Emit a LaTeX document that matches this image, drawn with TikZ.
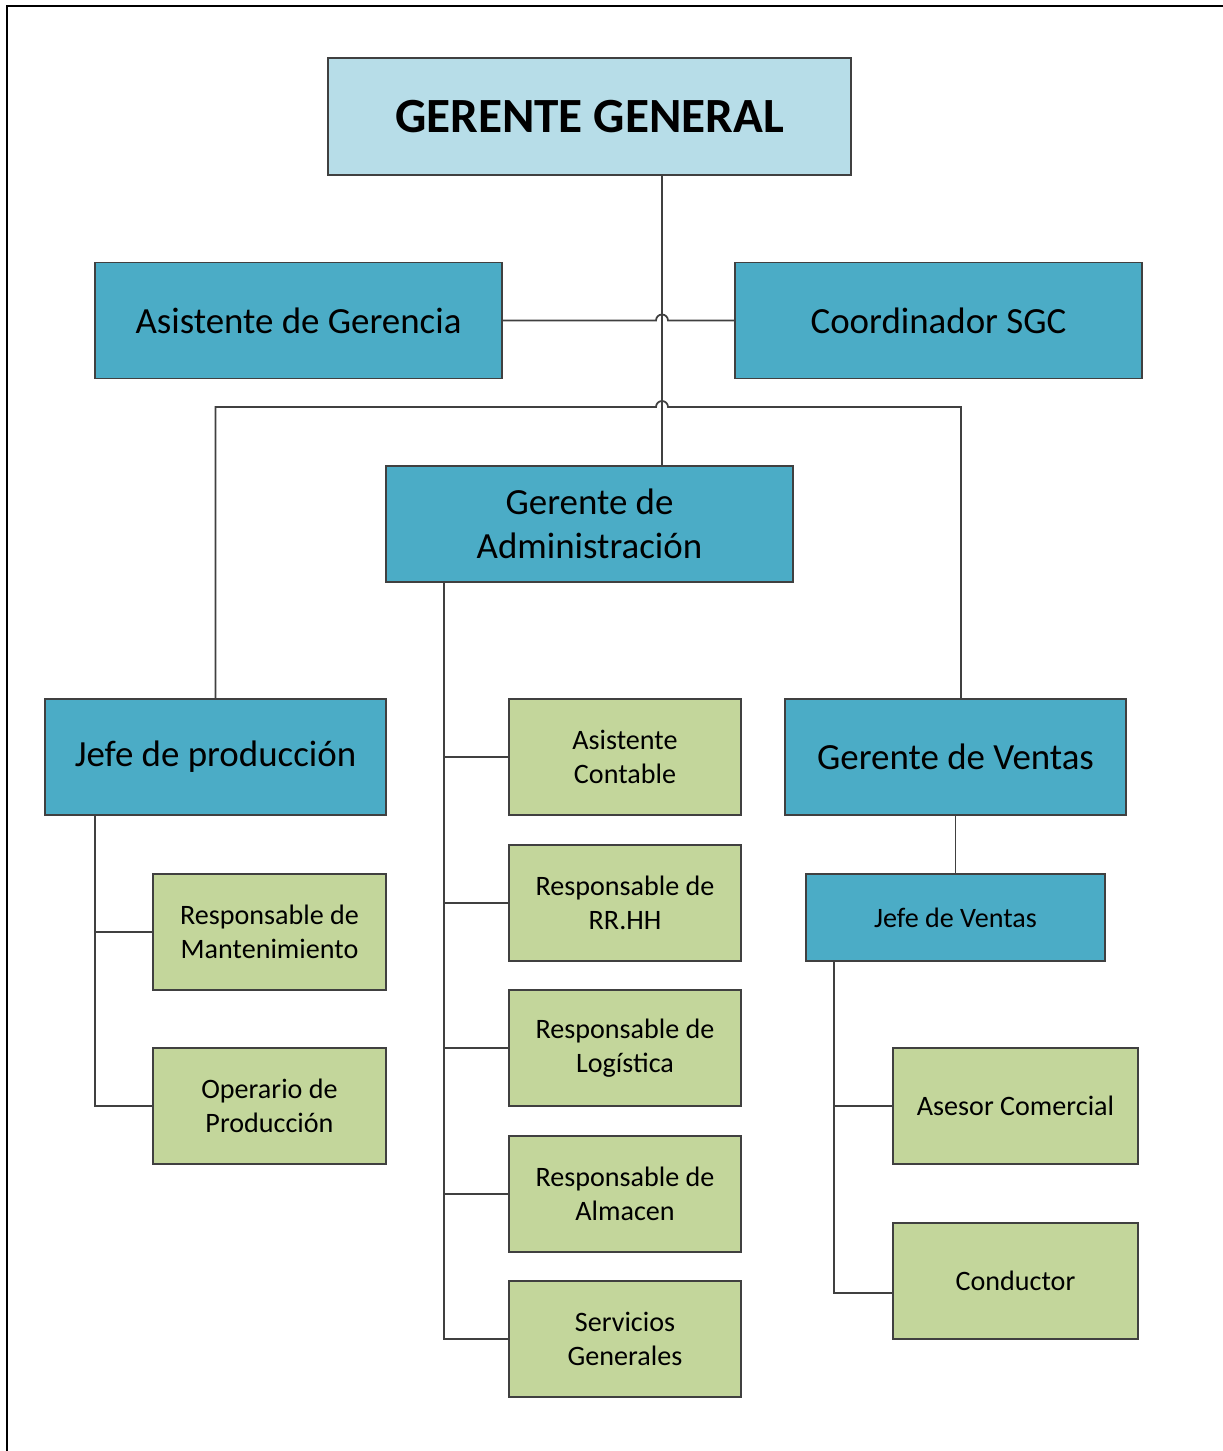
\documentclass[tikz,border=0pt]{standalone}
\usepackage{fontspec}
\setmainfont{Carlito}
\usetikzlibrary{calc}
\definecolor{ggblue}{RGB}{183,221,232}
\definecolor{bossblue}{RGB}{75,172,198}
\definecolor{staffgreen}{RGB}{195,214,155}
\definecolor{linegray}{RGB}{64,64,64}
\tikzstyle{ggbox} = [rectangle, minimum width=10.46cm, minimum height=2.34cm, inner sep=0pt, text centered, draw=linegray, line width=1pt, fill=ggblue, font=\fontsize{28}{34}\selectfont\bfseries]
\tikzstyle{bossbox} = [rectangle, minimum width=8.14cm, minimum height=2.32cm, inner sep=0pt, align=center, draw=linegray, line width=1pt, fill=bossblue, font=\fontsize{21}{25.2}\selectfont]
\tikzstyle{staffbox} = [rectangle, minimum width=4.64cm, minimum height=2.32cm, inner sep=0pt, align=center, draw=linegray, line width=1pt, fill=staffgreen, font=\fontsize{16}{19.3}\selectfont]
\tikzstyle{link} = [line width=1pt, draw=linegray]
\begin{document}
\begin{tikzpicture}[x=0.02cm, y=-0.02cm]
			\useasboundingbox (0,0) rectangle (1223,1451);
			\draw [line width=1.7pt] (7,1451) -- (7,6) -- (1223,6);
			\node(gg)[ggbox] at (589.5,116.5) {GERENTE GENERAL};
			\node(asis)[bossbox] at (298.5,320.5) {Asistente de Gerencia};
			\node(coord)[bossbox] at (938.5,320.5) {Coordinador SGC};
			\node(gadm)[bossbox] at (589.5,524) {Gerente de\\Administración};
			\node(jprod)[bossbox, minimum width=6.82cm] at (215.5,757) {Jefe de producción};
			\node(gventas)[bossbox, minimum width=6.82cm] at (955.5,757) {Gerente de Ventas};
			\node(jventas)[bossbox, minimum width=5.98cm, minimum height=1.74cm, font=\fontsize{16}{19.3}\selectfont] at (955.5,917.5) {Jefe de Ventas};

			\node(acont)[staffbox] at (625,757) {Asistente\\Contable};
			\node(rrhh)[staffbox] at (625,903) {Responsable de\\RR.HH};
			\node(logis)[staffbox] at (625,1048) {Responsable de\\Logística};
			\node(almac)[staffbox] at (625,1194) {Responsable de\\Almacen};
			\node(sgen)[staffbox] at (625,1339) {Servicios\\Generales};
			\node(rmant)[staffbox, minimum width=4.66cm] at (269.5,932) {Responsable de\\Mantenimiento};
			\node(oprod)[staffbox, minimum width=4.66cm] at (269.5,1106) {Operario de\\Producción};
			\node(asesor)[staffbox, minimum width=4.9cm] at (1015.5,1106) {Asesor Comercial};
			\node(cond)[staffbox, minimum width=4.9cm] at (1015.5,1281) {Conductor};

			% Lines
			\draw [link] ([xshift=1.45cm]gg.south) -- ([xshift=1.45cm]gadm.north);
			\draw [link] (asis.east) -- (656,320.5) arc[start angle=180, end angle=360, radius=6] -- (coord.west);
			\draw [link] (jprod.north) |- (656,407) arc[start angle=180, end angle=360, radius=6] -| ([xshift=0.11cm]gventas.north);
			\foreach \n in {acont, rrhh, logis, almac, sgen}
				\draw [link] ([xshift=-2.91cm]gadm.south) |- (\n.west);
			\foreach \n in {rmant, oprod}
				\draw [link] ([xshift=-2.41cm]jprod.south) |- (\n.west);
			\draw [link] (gventas.south) -- (jventas.north);
			\draw [link] ([xshift=-2.43cm]jventas.south) |- (asesor.west);
			\draw [link] ([xshift=-2.43cm]jventas.south) |- ([yshift=-0.24cm]cond.west);
		\end{tikzpicture}
\end{document}
